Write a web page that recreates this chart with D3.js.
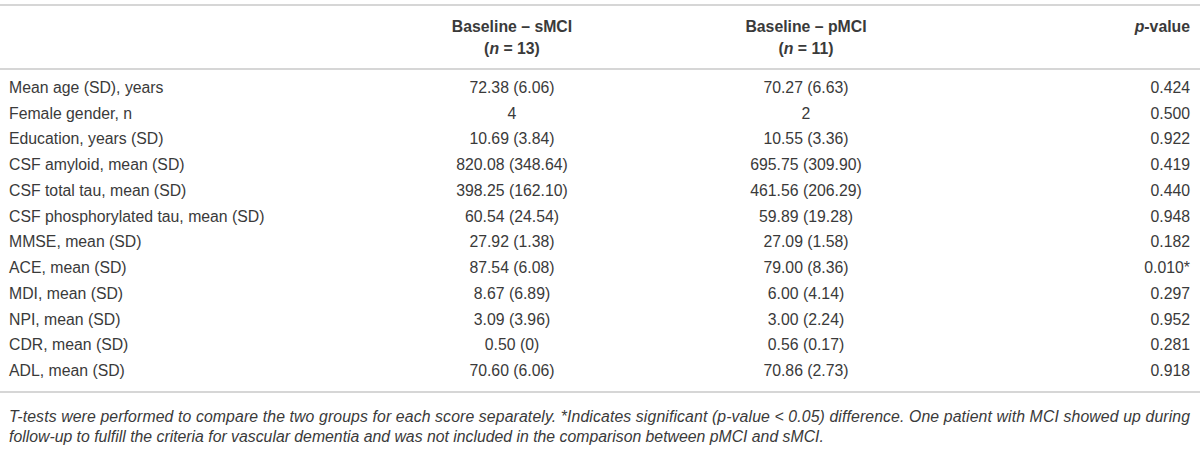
<!DOCTYPE html>
<html>
<head>
<meta charset="utf-8">
<script src="https://cdn.jsdelivr.net/npm/d3@7"></script>
<style>
  body { margin: 0; background: #fff; }
  svg text { font-family: "Liberation Sans", Arial, sans-serif; fill: #3a3a3a; }
</style>
</head>
<body>
<div id="table"></div>
<script>
const width = 1200;
const height = 454;

// Table content
const rowLabels = [
    "Mean age (SD), years",
    "Female gender, n",
    "Education, years (SD)",
    "CSF amyloid, mean (SD)",
    "CSF total tau, mean (SD)",
    "CSF phosphorylated tau, mean (SD)",
    "MMSE, mean (SD)",
    "ACE, mean (SD)",
    "MDI, mean (SD)",
    "NPI, mean (SD)",
    "CDR, mean (SD)",
    "ADL, mean (SD)"
];
const smciValues = [
    "72.38 (6.06)", "4", "10.69 (3.84)", "820.08 (348.64)", "398.25 (162.10)",
    "60.54 (24.54)", "27.92 (1.38)", "87.54 (6.08)", "8.67 (6.89)", "3.09 (3.96)",
    "0.50 (0)", "70.60 (6.06)"
];
const pmciValues = [
    "70.27 (6.63)", "2", "10.55 (3.36)", "695.75 (309.90)", "461.56 (206.29)",
    "59.89 (19.28)", "27.09 (1.58)", "79.00 (8.36)", "6.00 (4.14)", "3.00 (2.24)",
    "0.56 (0.17)", "70.86 (2.73)"
];
const pValues = [
    "0.424", "0.500", "0.922", "0.419", "0.440", "0.948",
    "0.182", "0.010*", "0.297", "0.952", "0.281", "0.918"
];
const footnoteLines = [
    "T-tests were performed to compare the two groups for each score separately. *Indicates significant (p-value < 0.05) difference. One patient with MCI showed up during",
    "follow-up to fulfill the criteria for vascular dementia and was not included in the comparison between pMCI and sMCI."
];

const svg = d3.select("#table")
    .append("svg")
    .attr("width", width)
    .attr("height", height);

// column anchors
const colX = d3.scaleOrdinal()
    .domain(["label", "smci", "pmci", "p"])
    .range([9, 512, 806, 1190]);

const y = d3.scaleBand()
    .domain(d3.range(rowLabels.length))
    .range([75, 384]);

const rule = (yy) => svg.append("line")
    .attr("x1", 0).attr("x2", width)
    .attr("y1", yy).attr("y2", yy)
    .attr("stroke", "#c8c8c8")
    .attr("stroke-width", 1.5);

rule(5);
rule(69);
rule(392);

// header
const header = svg.append("g").attr("font-size", 15.8).attr("font-weight", "bold");
[["smci", "Baseline – sMCI", "13"], ["pmci", "Baseline – pMCI", "11"]].forEach(([k, title, n]) => {
    header.append("text")
        .attr("x", colX(k)).attr("y", 32)
        .attr("text-anchor", "middle")
        .text(title);
    const t = header.append("text")
        .attr("x", colX(k)).attr("y", 54)
        .attr("text-anchor", "middle");
    t.append("tspan").text("(");
    t.append("tspan").attr("font-style", "italic").text("n");
    t.append("tspan").text(` = ${n})`);
});
const pv = header.append("text")
    .attr("x", colX("p")).attr("y", 32)
    .attr("text-anchor", "end");
pv.append("tspan").attr("font-style", "italic").text("p");
pv.append("tspan").text("-value");

// body rows
const rows = svg.append("g")
    .attr("font-size", 15.8)
    .selectAll("g")
    .data(rowLabels.map((d, i) => ({ label: d, smci: smciValues[i], pmci: pmciValues[i], p: pValues[i], i })))
    .join("g")
    .attr("transform", d => `translate(0, ${y(d.i) + y.bandwidth() / 2 + 5})`);

rows.append("text").attr("x", colX("label")).text(d => d.label);
rows.append("text").attr("x", colX("smci")).attr("text-anchor", "middle").text(d => d.smci);
rows.append("text").attr("x", colX("pmci")).attr("text-anchor", "middle").text(d => d.pmci);
rows.append("text").attr("x", colX("p")).attr("text-anchor", "end").text(d => d.p);

// footnote
svg.append("g")
    .attr("font-size", 15.8)
    .attr("font-style", "italic")
    .selectAll("text")
    .data(footnoteLines)
    .join("text")
    .attr("x", 9)
    .attr("y", (d, i) => 422 + i * 20)
    .attr("textLength", (d, i) => i === 0 ? 1181 : null)
    .attr("lengthAdjust", "spacing")
    .text(d => d);
</script>
</body>
</html>
